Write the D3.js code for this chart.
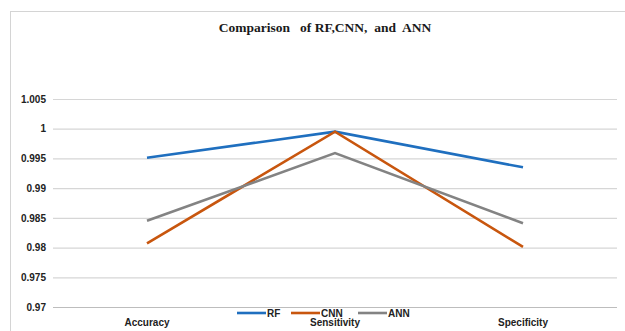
<!DOCTYPE html>
<html>
<head>
<meta charset="utf-8">
<script src="https://cdn.jsdelivr.net/npm/d3@7"></script>
<style>
  html, body { margin: 0; padding: 0; background: #fff; }
  svg { display: block; }
</style>
</head>
<body>
<svg id="chart" width="625" height="331"></svg>
<script>
// Categories and metric values per model
const categories = ["Accuracy", "Sensitivity", "Specificity"];
const rfValues  = [0.9951, 0.9995, 0.9935];
const cnnValues = [0.9807, 0.9995, 0.9801];
const annValues = [0.9845, 0.9959, 0.9841];
const yTicks = [0.97, 0.975, 0.98, 0.985, 0.99, 0.995, 1, 1.005];
const yTickLabels = ["0.97", "0.975", "0.98", "0.985", "0.99", "0.995", "1", "1.005"];

const series = [
  { name: "RF",  values: rfValues,  color: "#1f6fbf" },
  { name: "CNN", values: cnnValues, color: "#c8560e" },
  { name: "ANN", values: annValues, color: "#838383" }
];

const svg = d3.select("#chart");
const W = 625, H = 331;

// Chart frame
svg.append("rect")
  .attr("x", 10.5).attr("y", 11.5)
  .attr("width", W + 10).attr("height", H + 10)
  .attr("fill", "#fff").attr("stroke", "#d4d4d4").attr("stroke-width", 1);

// Title
svg.append("text")
  .attr("x", 325).attr("y", 32)
  .attr("text-anchor", "middle")
  .attr("font-family", "'Liberation Serif', 'Times New Roman', serif")
  .attr("font-weight", "bold")
  .attr("font-size", 13.5)
  .attr("fill", "#1a1a1a")
  .attr("xml:space", "preserve")
  .text("Comparison   of RF,CNN,  and  ANN");

const plotLeft = 53, plotRight = 617;
const x = d3.scaleBand().domain(categories).range([plotLeft, plotRight]).padding(0);
const y = d3.scaleLinear().domain([0.97, 1.005]).range([307, 99]);

// Horizontal gridlines
const yAxis = d3.axisLeft(y)
  .tickValues(yTicks)
  .tickSize(-(plotRight - plotLeft))
  .tickPadding(10)
  .tickFormat((d, i) => yTickLabels[i]);

const gy = svg.append("g")
  .attr("transform", `translate(${plotLeft},0)`)
  .call(yAxis);
gy.select(".domain").remove();
gy.selectAll(".tick line")
  .attr("stroke", (d) => d === 0.97 ? "#bdbdbd" : "#d6d6d6")
  .attr("stroke-width", 1.2);
gy.selectAll(".tick text")
  .attr("x", -7)
  .attr("font-family", "'Liberation Sans', Arial, sans-serif")
  .attr("font-weight", "bold")
  .attr("font-size", 10)
  .attr("fill", "#222");

// Category labels
const gx = svg.append("g")
  .attr("transform", `translate(0,${y(0.97)})`)
  .call(d3.axisBottom(x).tickSize(0).tickPadding(12));
gx.select(".domain").remove();
gx.selectAll(".tick text")
  .attr("font-family", "'Liberation Sans', Arial, sans-serif")
  .attr("font-weight", "bold")
  .attr("font-size", 10)
  .attr("fill", "#222");

// Series lines
const line = d3.line()
  .x((d, i) => x(categories[i]) + x.bandwidth() / 2)
  .y((d) => y(d));

svg.append("g").selectAll("path")
  .data(series)
  .join("path")
  .attr("d", (s) => line(s.values))
  .attr("fill", "none")
  .attr("stroke", (s) => s.color)
  .attr("stroke-width", 2.6)
  .attr("stroke-linejoin", "miter");

// Legend
const legendItems = [
  { x: 237 }, { x: 291 }, { x: 358 }
];
const legend = svg.append("g");
series.forEach((s, i) => {
  const lx = legendItems[i].x;
  legend.append("line")
    .attr("x1", lx).attr("x2", lx + 29)
    .attr("y1", 313).attr("y2", 313)
    .attr("stroke", s.color).attr("stroke-width", 2.6);
  legend.append("text")
    .attr("x", lx + 30).attr("y", 317)
    .attr("font-family", "'Liberation Sans', Arial, sans-serif")
    .attr("font-weight", "bold")
    .attr("font-size", 10)
    .attr("fill", "#222")
    .text(s.name);
});
</script>
</body>
</html>
